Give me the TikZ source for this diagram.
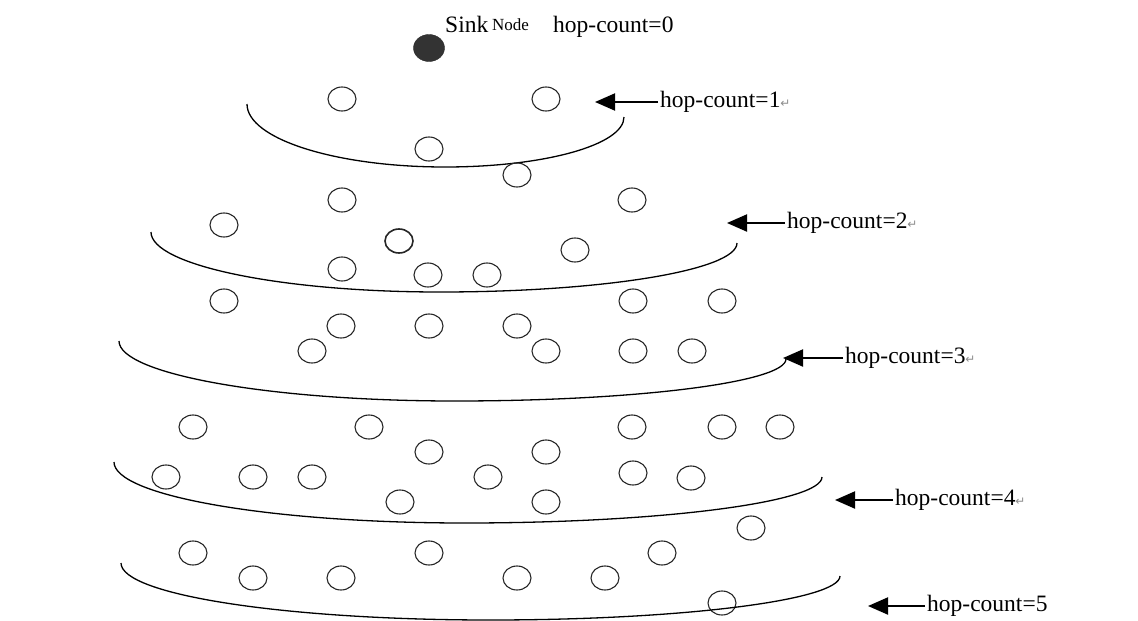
\documentclass[tikz,border=0pt]{standalone}
\usepackage{fontspec}
\setmainfont{Liberation Serif}
\newfontfamily\marksym{DejaVu Sans}
\usetikzlibrary{shapes.geometric,arrows.meta}
\newcommand{\retmark}{{\color{black!45}\marksym\fontsize{12}{12}\selectfont ↵}}
\begin{document}
\begin{tikzpicture}[x=1pt, y=-1pt,
  sensor/.style={ellipse, draw=black!85, line width=1.1pt, minimum width=28pt, minimum height=24pt, inner sep=0pt},
  hoplabel/.style={anchor=west, inner sep=2pt, font=\fontsize{23.5}{23.5}\selectfont},
  hoparrow/.style={line width=2pt, -{Triangle[length=20pt, width=17pt]}},
  ring/.style={line width=1.3pt}]
\useasboundingbox (0,0) rectangle (1138,621);
% sink
\node[ellipse, fill=black!80, draw=black!85, minimum width=31pt, minimum height=27pt, inner sep=0pt] (sink) at (429,48) {};
\node[anchor=base west, inner sep=0pt, font=\fontsize{23.5}{23.5}\selectfont] (sinkA) at (445,32) {Sink};
\node[anchor=base west, inner sep=0pt, font=\fontsize{17}{17}\selectfont] (sinkB) at (492,30) {Node};
\node[anchor=base west, inner sep=0pt, font=\fontsize{23.5}{23.5}\selectfont] (H_0) at (553,32) {hop-count=0};
% hop-count 1
\node[sensor] (S_1_0) at (342,99) {};
\node[sensor] (S_1_1) at (546,99) {};
\node[sensor] (S_1_2) at (429,149) {};
\draw[ring] (247,104) .. controls (247,139) and (336,167) .. (445,167) .. controls (544,167) and (624,145) .. (624,117);
\coordinate (T_1) at (595,102);
\node[hoplabel] (H_1) at (658,102) {hop-count=1\retmark};
\draw[hoparrow] (H_1.west) -- (T_1);
% hop-count 2
\node[sensor] (S_2_0) at (517,175) {};
\node[sensor] (S_2_1) at (342,200) {};
\node[sensor] (S_2_2) at (632,200) {};
\node[sensor] (S_2_3) at (224,225) {};
\node[sensor, line width=1.6pt] (S_2_4) at (399,241) {};
\node[sensor] (S_2_5) at (575,250) {};
\node[sensor] (S_2_6) at (342,269) {};
\node[sensor] (S_2_7) at (428,275) {};
\node[sensor] (S_2_8) at (487,275) {};
\draw[ring] (151,232) .. controls (151,265) and (280,292) .. (440,292) .. controls (604,292) and (737,270) .. (737,243);
\coordinate (T_2) at (727,223);
\node[hoplabel] (H_2) at (785,223) {hop-count=2\retmark};
\draw[hoparrow] (H_2.west) -- (T_2);
% hop-count 3
\node[sensor] (S_3_0) at (224,301) {};
\node[sensor] (S_3_1) at (633,301) {};
\node[sensor] (S_3_2) at (722,301) {};
\node[sensor] (S_3_3) at (341,326) {};
\node[sensor] (S_3_4) at (429,326) {};
\node[sensor] (S_3_5) at (517,326) {};
\node[sensor] (S_3_6) at (312,351) {};
\node[sensor] (S_3_7) at (546,351) {};
\node[sensor] (S_3_8) at (633,351) {};
\node[sensor] (S_3_9) at (692,351) {};
\draw[ring] (119,341) .. controls (119,374) and (270,401) .. (455,401) .. controls (638,401) and (786,382) .. (786,359);
\coordinate (T_3) at (783,358);
\node[hoplabel] (H_3) at (843,358) {hop-count=3\retmark};
\draw[hoparrow] (H_3.west) -- (T_3);
% hop-count 4
\node[sensor] (S_4_0) at (193,427) {};
\node[sensor] (S_4_1) at (369,427) {};
\node[sensor] (S_4_2) at (632,427) {};
\node[sensor] (S_4_3) at (722,427) {};
\node[sensor] (S_4_4) at (780,427) {};
\node[sensor] (S_4_5) at (429,452) {};
\node[sensor] (S_4_6) at (546,452) {};
\node[sensor] (S_4_7) at (166,477) {};
\node[sensor] (S_4_8) at (253,477) {};
\node[sensor] (S_4_9) at (312,477) {};
\node[sensor] (S_4_10) at (488,477) {};
\node[sensor] (S_4_11) at (633,473) {};
\node[sensor] (S_4_12) at (691,478) {};
\node[sensor] (S_4_13) at (400,502) {};
\node[sensor] (S_4_14) at (546,502) {};
\draw[ring] (114,462) .. controls (114,496) and (271,523) .. (465,523) .. controls (662,523) and (822,502) .. (822,477);
\coordinate (T_4) at (835,500);
\node[hoplabel] (H_4) at (893,500) {hop-count=4\retmark};
\draw[hoparrow] (H_4.west) -- (T_4);
% hop-count 5
\node[sensor] (S_5_0) at (751,528) {};
\node[sensor] (S_5_1) at (193,553) {};
\node[sensor] (S_5_2) at (429,553) {};
\node[sensor] (S_5_3) at (662,553) {};
\node[sensor] (S_5_4) at (253,578) {};
\node[sensor] (S_5_5) at (341,578) {};
\node[sensor] (S_5_6) at (517,578) {};
\node[sensor] (S_5_7) at (605,578) {};
\node[sensor] (S_5_8) at (722,603) {};
\draw[ring] (121,563) .. controls (121,595) and (286,620) .. (490,620) .. controls (683,620) and (840,600) .. (840,576);
\coordinate (T_5) at (868,606);
\node[hoplabel] (H_5) at (925,606) {hop-count=5};
\draw[hoparrow] (H_5.west) -- (T_5);
\end{tikzpicture}
\end{document}
